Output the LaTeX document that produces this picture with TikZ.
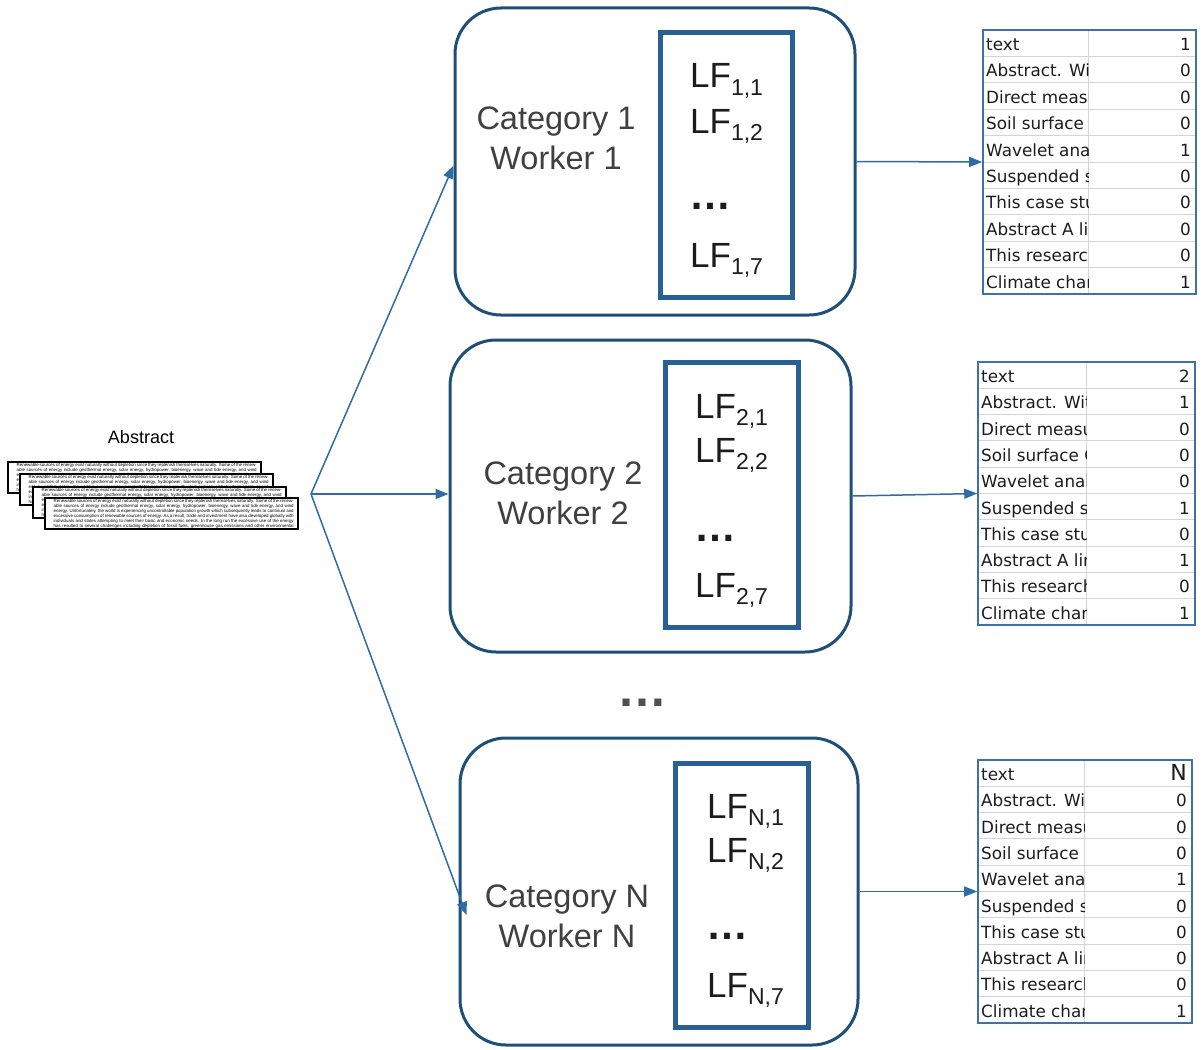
\documentclass[tikz,border=0pt]{standalone}
\usepackage{fontspec}
\setmainfont{Liberation Sans}
\newfontfamily\tblfont{DejaVu Sans}
\usetikzlibrary{arrows.meta,calc}

\definecolor{navy}{RGB}{31,78,121}
\definecolor{innerblue}{RGB}{40,96,148}
\definecolor{flowblue}{RGB}{46,108,166}
\definecolor{tblblue}{RGB}{62,112,172}
\definecolor{gridgray}{RGB}{212,212,212}
\definecolor{cattext}{RGB}{64,64,64}
\definecolor{lftext}{RGB}{28,28,28}
\definecolor{dotgray}{RGB}{80,80,80}

\newcommand\lfsub[1]{LF\raisebox{-7pt}{\fontsize{23}{23}\selectfont #1}}
\newcommand\bigN{{\fontsize{22}{22}\selectfont N}}
\newcommand\abstracttext{\hyphenpenalty=10000\exhyphenpenalty=10000\emergencystretch=20pt Renewable sources of energy exist naturally without depletion since they replenish themselves naturally. Some of the renewable sources of energy include geothermal energy, solar energy, hydropower, bioenergy, wave and tide energy, and wind energy. Unfortunately, the world is experiencing uncontrollable population growth which subsequently leads to continual and excessive consumption of renewable sources of energy. As a result, trade and investment have also developed globally with individuals and states attempting to meet their basic and economic needs. In the long run the excessive use of the energy has resulted to several challenges including depletion of fossil fuels, greenhouse gas emissions and other environmental issues.}

\tikzset{
  outerbox/.style={draw=navy, line width=3pt, rounded corners=46pt, fill=white, inner sep=0pt},
  innerbox/.style={draw=innerblue, line width=5pt, inner sep=0pt},
  cattxt/.style={text=cattext, font=\fontsize{32.5}{40}\selectfont, align=center, inner sep=0pt},
  lftxt/.style={text=lftext, font=\fontsize{35}{35}\selectfont, inner sep=0pt},
  dotstxt/.style={text=lftext, font=\bfseries\fontsize{42}{42}\selectfont, inner sep=0pt},
  flow/.style={draw=flowblue, line width=1.5pt, -{Triangle[length=13pt,width=10pt]}},
  gridline/.style={draw=gridgray, line width=1pt},
  tblframe/.style={draw=tblblue, line width=1.6pt, inner sep=0pt},
  cell/.style={text=lftext, font=\tblfont\fontsize{16.8}{16.8}\selectfont, inner sep=0pt},
  pagetext/.style={font=\fontsize{4.4}{4.85}\selectfont, text width=240pt, align=justify, inner sep=0pt},
  pageborder/.style={draw=black, line width=1.2pt},
}

\newcommand\xltable[8]{% #1 name, #2 left, #3 top, #4 right, #5 bottom, #6 divider, #7 values, #8 center
  \pgfmathsetmacro\rh{(#5-#3)/10}
  \foreach \k in {1,...,9} {\draw[gridline] (#2,#3+\k*\rh) -- (#4,#3+\k*\rh);}
  \draw[gridline] (#6,#3) -- (#6,#5);
  \begin{scope}
    \clip (#2,#3) rectangle (#6,#5);
    \foreach \lab [count=\i] in {text,Abstract. With,Direct measurement,Soil surface CO2,Wavelet analysis,Suspended sediment,This case study,Abstract A link,This research,Climate change} {
      \node[cell, anchor=base west] (#1l\i) at (#2+3, #3+\i*\rh-\rh+20.5) {\lab};
    }
  \end{scope}
  \foreach \v [count=\i] in {#7} {
    \node[cell, anchor=base east] (#1v\i) at (#4-5, #3+\i*\rh-\rh+20.5) {\v};
  }
  \node[tblframe, minimum width={(#4-#2)*1pt}, minimum height={(#5-#3)*1pt}] (#1) at (#8) {};
}

\begin{document}
\begin{tikzpicture}[x=1pt,y=-1pt]
\useasboundingbox (0,0) rectangle (1204,1049);

% ---------- abstract stack ----------
\node[font=\fontsize{18}{18}\selectfont, inner sep=0pt] (abslabel) at (141,437) {Abstract};
\foreach \px/\py [count=\i] in {8/462, 20/474, 33/487, 45/498} {
  \begin{scope}
    \fill[white] (\px,\py) rectangle ++(253,31);
    \clip (\px,\py) rectangle ++(253,31);
    \node[pagetext, anchor=north west] (pg\i) at (\px+8.5,\py+1.6) {\abstracttext};
  \end{scope}
  \draw[pageborder] (\px,\py) rectangle ++(253,31);
}

\coordinate (o) at (311,494);

% ---------- worker boxes ----------
\node[outerbox, minimum width=400pt, minimum height=307pt] (w1) at (655,161.5) {};
\node[outerbox, minimum width=401pt, minimum height=312pt] (w2) at (650.5,496) {};
\node[outerbox, minimum width=398pt, minimum height=307pt] (w3) at (659,891.5) {};

\node[innerbox, minimum width=132pt, minimum height=264pt] (i1) at (726,165) {};
\node[innerbox, minimum width=133pt, minimum height=265pt] (i2) at (731.5,494.5) {};
\node[innerbox, minimum width=133pt, minimum height=264pt] (i3) at (741.5,895) {};

\node[cattxt, anchor=north] (c1) at (556,107) {Category 1\\Worker 1};
\node[cattxt, anchor=north] (c2) at (563,462) {Category 2\\Worker 2};
\node[cattxt, anchor=north] (c3) at (567,885) {Category N\\Worker N};

\node[lftxt, anchor=base west] (lf11) at (690,88) {\lfsub{1,1}};
\node[lftxt, anchor=base west] (lf12) at (690,133) {\lfsub{1,2}};
\node[dotstxt, anchor=base west] (d1) at (689,209) {…};
\node[lftxt, anchor=base west] (lf17) at (690,267) {\lfsub{1,7}};

\node[lftxt, anchor=base west] (lf21) at (695,418) {\lfsub{2,1}};
\node[lftxt, anchor=base west] (lf22) at (695,462) {\lfsub{2,2}};
\node[dotstxt, anchor=base west] (d2) at (694,541) {…};
\node[lftxt, anchor=base west] (lf27) at (695,597) {\lfsub{2,7}};

\node[lftxt, anchor=base west] (lfN1) at (707,818) {\lfsub{N,1}};
\node[lftxt, anchor=base west] (lfN2) at (707,862) {\lfsub{N,2}};
\node[dotstxt, anchor=base west] (d3) at (706,939) {…};
\node[lftxt, anchor=base west] (lfN7) at (707,997) {\lfsub{N,7}};

\node[text=dotgray, font=\bfseries\fontsize{50}{50}\selectfont, inner sep=0pt, anchor=base] (gap) at (642,706) {…};

% ---------- tables ----------
\xltable{t1}{983}{30}{1196}{294}{1088}{1,0,0,0,1,0,0,0,0,1}{1089.5,162}
\xltable{t2}{978}{362}{1195}{625}{1086}{2,1,0,0,0,1,0,1,0,1}{1086.5,493.5}
\xltable{t3}{978}{760}{1192}{1023}{1084}{\bigN,0,0,0,1,0,0,0,0,1}{1085,891.5}

% ---------- connectors ----------
\draw[flow] (o) -- ($(w1.west)+(0,4)$);
\draw[flow] (o) -- ($(w2.west)+(0,-2)$);
\draw[flow] (o) -- ($(w3.west)+(8,23.5)$);

\draw[flow] (w1.east) -- (t1.west);
\draw[flow] (w2.east) -- (t2.west);
\draw[flow] (w3.east) -- (t3.west);
\end{tikzpicture}
\end{document}
